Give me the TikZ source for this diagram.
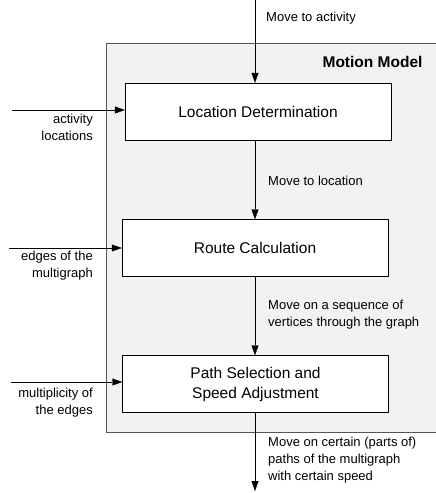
\documentclass[tikz,border=0pt]{standalone}
\usepackage{fontspec}
\setmainfont{Liberation Sans}
\usetikzlibrary{arrows.meta}
\definecolor{modelfill}{HTML}{F2F2F2}
\definecolor{modeledge}{HTML}{555555}
\tikzset{
  stage/.style={draw, fill=white, minimum width=266pt, minimum height=57pt,
    align=center, font=\fontsize{15.5}{20}\selectfont},
  note/.style={font=\fontsize{13}{17}\selectfont, inner sep=0pt},
  flow/.style={-{Triangle[length=10pt,width=7pt]}}
}

\begin{document}
\begin{tikzpicture}[x=1pt,y=-1pt]
        \useasboundingbox (0,0) rectangle (436,493);
        % Rahmen Motion Model
        \draw[modeledge, fill=modelfill, thick] (106,43) rectangle (445,432);
        \node[font=\fontsize{15.5}{20}\selectfont\bfseries, anchor=east] (title) at (426,62) {Motion Model};
        % Stufen
        \node[stage] (loc) at (258,111.5) {Location Determination};
        \node[stage] (route) at (255,248) {Route Calculation};
        \node[stage] (path) at (255.5,384) {Path Selection and\\Speed Adjustment};
        % Ein- und Ausgang
        \coordinate (in) at (255,0);
        \coordinate (out) at (255,491);
        \draw[flow] (in) -- (in |- loc.north);
        \draw[flow] (loc.south -| in) -- (in |- route.north);
        \draw[flow] (route.south -| in) -- (in |- path.north);
        \draw[flow] (path.south -| in) -- (out);
        \node[note, anchor=west] (m1) at (266,18) {Move to activity};
        \node[note, anchor=west] (m2) at (268,181) {Move to location};
        \node[note, anchor=west, align=left] (m3) at (268,314.5) {Move on a sequence of\\vertices through the graph};
        \node[note, anchor=west, align=left] (m4) at (268,460) {Move on certain (parts of)\\paths of the multigraph\\with certain speed};
        % Daten von links
        \coordinate (a1) at (12,110);
        \coordinate (a2) at (9,248);
        \coordinate (a3) at (11,382);
        \draw[flow] (a1) -- (loc.west |- a1);
        \draw[flow] (a2) -- (route.west |- a2);
        \draw[flow] (a3) -- (path.west |- a3);
        \node[note, anchor=east, align=right] (d1) at (93,127) {activity\\locations};
        \node[note, anchor=east, align=right] (d2) at (93,265.5) {edges of the\\multigraph};
        \node[note, anchor=east, align=right] (d3) at (93,403) {multiplicity of\\the edges};
    \end{tikzpicture}
\end{document}
